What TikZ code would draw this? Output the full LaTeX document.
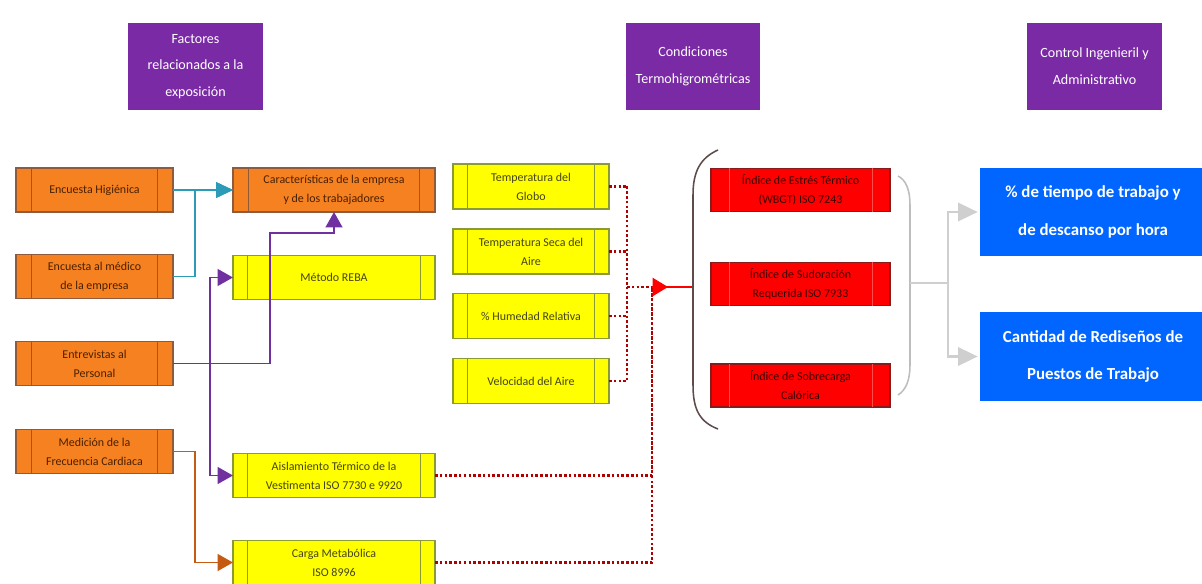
\documentclass[tikz,border=0pt]{standalone}
\usepackage{fontspec}
\setmainfont{Carlito}
\usetikzlibrary{arrows.meta}

\definecolor{hdrpurple}{HTML}{7B2AA6}
\definecolor{orfill}{HTML}{F68121}
\definecolor{orline}{HTML}{8F5B3C}
\definecolor{ortext}{HTML}{4A2000}
\definecolor{yefill}{HTML}{FFFF00}
\definecolor{yeline}{HTML}{8C9A36}
\definecolor{yetext}{HTML}{45451A}
\definecolor{rdfill}{HTML}{FF0000}
\definecolor{rdline}{HTML}{8B1A1A}
\definecolor{rdtext}{HTML}{3C0000}
\definecolor{blfill}{HTML}{0066FF}
\definecolor{tealline}{HTML}{2C9BB8}
\definecolor{purline}{HTML}{7030A0}
\definecolor{brnline}{HTML}{C55A11}
\definecolor{dotred}{HTML}{B00000}
\definecolor{brkdark}{HTML}{5E4B4B}
\definecolor{brklight}{HTML}{BDBDBD}
\definecolor{grayln}{HTML}{CFCFCF}

\tikzset{
  box/.style={draw, line width=0.8pt, align=center, inner sep=1pt, outer sep=0pt,
    font=\fontsize{8.5}{13.5}\selectfont},
  hdr/.style={fill=hdrpurple, text=white, align=center, minimum width=3.35cm,
    minimum height=2.175cm, font=\fontsize{10}{19}\selectfont},
  orbox/.style={box, fill=orfill, draw=orline, text=ortext},
  yebox/.style={box, fill=yefill, draw=yeline, text=yetext},
  rdbox/.style={box, fill=rdfill, draw=rdline, minimum width=4.475cm,
    minimum height=1.075cm, font=\fontsize{8.5}{13.5}\selectfont\color{rdtext}},
  blbox/.style={fill=blfill, text=white, align=center, minimum width=5.65cm,
    minimum height=2.2cm, font=\bfseries\fontsize{12}{27}\selectfont},
  leftw/.style={minimum width=3.925cm, minimum height=1.1cm},
  midw/.style={minimum width=5.05cm, minimum height=1.1cm},
  tempw/.style={minimum width=3.9cm, minimum height=1.125cm},
  tealarr/.style={draw=tealline, line width=1.4pt, -{Triangle[length=12pt,width=11pt]}},
  purarr/.style={draw=purline, line width=1.4pt, -{Triangle[length=11pt,width=12pt]}},
  brnarr/.style={draw=brnline, line width=1.4pt, -{Triangle[length=11pt,width=12pt]}},
  reddot/.style={draw=dotred, line width=1.5pt, dash pattern=on 1.8pt off 1.6pt},
  redarr/.style={draw=rdfill, line width=1.2pt, -{Triangle[length=11pt,width=13pt]}},
  grayarr/.style={draw=grayln, line width=2pt, -{Triangle[length=14pt,width=13pt]}, shorten >=0.05cm},
}

% inner side bars of a process box: node, offset, colour
\newcommand\sidebars[3]{%
  \draw[#3, line width=0.7pt] ([xshift=#2]#1.north west) -- ([xshift=#2]#1.south west)
    ([xshift=-#2]#1.north east) -- ([xshift=-#2]#1.south east);}

\begin{document}
\begin{tikzpicture}[x=0.025cm, y=-0.025cm]

\useasboundingbox (0,0) rectangle (1202,584);

% headers
\node[hdr] (hfac) at (195.5,66.5) {Factores\\relacionados a la\\exposición};
\node[hdr] (hcon) at (693,66.5) {Condiciones\\Termohigrométricas};
\node[hdr] (hctl) at (1094.5,66.5) {Control Ingenieril y\\Administrativo};

% left column
\node[orbox, leftw] (enchig) at (94.5,190) {Encuesta Higiénica};
\node[orbox, leftw] (encmed) at (94.5,276.5) {Encuesta al médico\\de la empresa};
\node[orbox, leftw] (entper) at (94.5,363.5) {Entrevistas al\\Personal};
\node[orbox, leftw] (medfc) at (94.5,451.5) {Medición de la\\Frecuencia Cardiaca};

% middle column
\node[orbox, midw] (caract) at (334,190) {Características de la empresa\\y de los trabajadores};
\node[yebox, midw] (reba) at (334,277.5) {Método REBA};
\node[yebox, midw] (aisl) at (334,475.5) {Aislamiento Térmico de la\\Vestimenta ISO 7730 e 9920};
\node[yebox, midw] (carga) at (334,562.5) {Carga Metabólica\\ISO 8996};

% termohigrometric variables
\node[yebox, tempw] (tglobo) at (531,186.5) {Temperatura del\\Globo};
\node[yebox, tempw] (tseca) at (531,251.5) {Temperatura Seca del\\Aire};
\node[yebox, tempw] (humrel) at (531,316) {\% Humedad Relativa};
\node[yebox, tempw] (velaire) at (531,381) {Velocidad del Aire};

% indices
\node[rdbox] (iwbgt) at (800.5,190) {Índice de Estrés Térmico\\(WBGT) ISO 7243};
\node[rdbox] (isud) at (800.5,284) {Índice de Sudoración\\Requerida ISO 7933};
\node[rdbox] (isob) at (800.5,385.5) {Índice de Sobrecarga\\Calórica};

% control
\node[blbox] (tiempo) at (1093,212) {\% de tiempo de trabajo y\\de descanso por hora};
\node[blbox] (redis) at (1093,356.5) {Cantidad de Rediseños de\\Puestos de Trabajo};

% side bars
\foreach \n in {enchig,encmed,entper,medfc,caract}
  {\sidebars{\n}{0.38cm}{orline}}
\foreach \n in {reba,aisl,carga,tglobo,tseca,humrel,velaire}
  {\sidebars{\n}{0.36cm}{yeline}}
\foreach \n in {iwbgt,isud,isob}
  {\sidebars{\n}{0.45cm}{red!70!white}}

% left connectors
\draw[tealarr] (enchig.east) -- (caract.west);
\draw[tealarr] (encmed.east) -- ++(22,0) |- (caract.west);
\draw[purarr] (entper.east) -| (270,233) -| (caract.south);
\coordinate (pbus) at (210,363.5);
\draw[purarr] (pbus) |- (reba.west);
\draw[purarr] (pbus) |- (aisl.west);
\draw[brnarr] (medfc.east) -- ++(22,0) |- (carga.west);

% dotted bus
\coordinate (tbus) at (627,287);
\coordinate (hub) at (652,287);
\coordinate (lbrk) at (693,287);
\foreach \n in {tglobo,tseca,humrel,velaire}
  \draw[reddot] (\n.east) -- (\n.east -| tbus);
\draw[reddot] (tglobo.east -| tbus) -- (velaire.east -| tbus);
\draw[reddot] (tbus) -- (hub);
\draw[reddot] (aisl.east) -| (hub);
\draw[reddot] (carga.east) -| (hub);
\draw[draw=rdfill, line width=1.2pt] (hub) -- (lbrk);
\draw[redarr] (hub) -- ++(16,0);

% brackets
\draw[brkdark, line width=1.1pt] (718,150) .. controls (700,158) and (693,172) .. (693,195)
  -- (693,385) .. controls (693,410) and (700,422) .. (718,429);
\draw[brklight, line width=1.1pt] (898,176) .. controls (906,180) and (910,190) .. (910,205)
  -- (910,365) .. controls (910,380) and (906,390) .. (898,395);

% to control
\coordinate (rbrk) at (910,283);
\coordinate (gj) at (948,283);
\draw[grayln, line width=2pt] (rbrk) -- (gj);
\draw[grayarr] (gj) |- (tiempo.west);
\draw[grayarr] (gj) |- (redis.west);

\end{tikzpicture}
\end{document}
